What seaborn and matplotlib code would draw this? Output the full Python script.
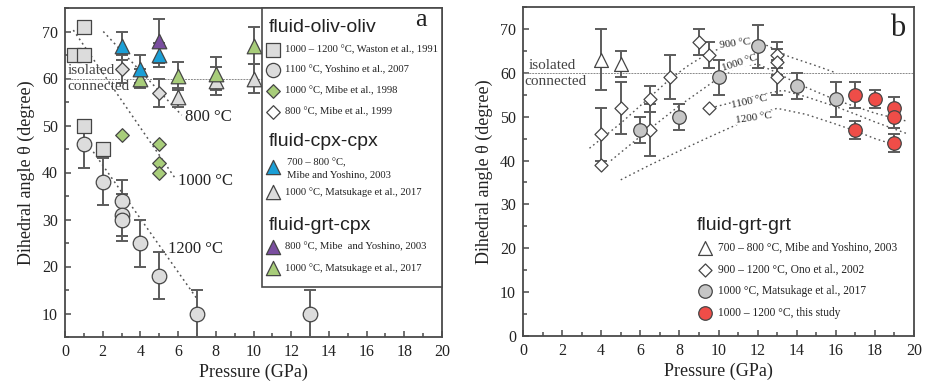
import numpy as np
import pandas as pd
import matplotlib
matplotlib.use("Agg")
import matplotlib.pyplot as plt
from matplotlib.patches import Rectangle
from matplotlib.ticker import MultipleLocator
import seaborn as sns

sns.set_theme(style="ticks")
SERIF = ['Liberation Serif', 'DejaVu Serif']
SANS = ['Liberation Sans', 'DejaVu Sans']
plt.rcParams['font.family'] = SERIF

# ---------------- panel a data ----------------
watson_p = [0.5, 1.0, 1.0, 1.0, 2.0]
watson_a = [65, 65, 71, 50, 45]

yoshino_p = [1, 2, 3, 3, 3, 4, 5, 7, 13]
yoshino_a = [46, 38, 34, 31, 30, 25, 18, 10, 10]
yoshino_e = [5, 5, 4.5, 4.5, 4.5, 5, 5, 5, 5]

mibe98_p = [3, 5, 5, 5]
mibe98_a = [48, 46, 42, 40]

mibe99_p = [3, 5]
mibe99_a = [62, 57]
mibe99_e = [3, 3]

my03cpx_p = [3, 4, 5]
my03cpx_a = [67, 62, 65]
my03cpx_e = [3, 3, 2.5]

mat17cpx_p = [6, 8, 10]
mat17cpx_a = [56, 59.5, 60]
mat17cpx_e = [2, 3, 3]

my03grtcpx_p = [5]
my03grtcpx_a = [68]
my03grtcpx_e = [4.7]

mat17grtcpx_p = [4, 6, 8, 10]
mat17grtcpx_a = [60, 60.5, 61, 67]
mat17grtcpx_e = [2, 3, 3.5, 4]

line800_p = [2.03, 6.19]
line800_a = [70.0, 52.2]
line1000_p = [0.44, 5.84]
line1000_a = [70.3, 38.8]
line1200_p = [1.5, 6.99]
line1200_a = [44.4, 13.2]

# ---------------- panel b data ----------------
my03_p = [4, 5]
my03_a = [63, 62]
my03_e = [7, 3]

ono02_p = [4, 4, 5, 6.5, 6.5, 7.5, 9, 9.5, 9.5, 13, 13, 13]
ono02_a = [46, 39, 52, 54, 47, 59, 67, 64, 52, 64, 62.5, 59]
ono02_e = [6, 0, 6, 3, 6, 5, 3, 3, 0, 3, 3, 4]

mat17_p = [6, 8, 10, 12, 14, 16]
mat17_a = [47, 50, 59, 66, 57, 54]
mat17_e = [3, 3, 4, 5, 3, 4]

this_p = [17, 17, 18, 19, 19, 19]
this_a = [55, 47, 54, 52, 50, 44]
this_e = [3, 2, 2, 2.5, 2.5, 2]

iso900_p = [3.4, 5.0, 6.5, 7.5, 8.5, 9.5, 10.5, 11.5, 12.5, 13.6, 15.0, 16.0]
iso900_a = [42.8, 48.5, 54.5, 58.5, 61.8, 64.5, 66.3, 67.0, 66.2, 63.7, 61.6, 60.0]
iso1000_p = [4.5, 6.0, 8.0, 10.0, 11.0, 12.0, 13.0, 14.0, 16.0, 17.0, 18.0, 19.7]
iso1000_a = [40.0, 45.5, 52.5, 58.8, 61.5, 62.0, 60.0, 57.6, 53.8, 52.3, 50.8, 48.9]
iso1100_p = [9.6, 10.5, 11.5, 12.5, 13.3, 14.5, 16.0, 17.1, 18.0, 19.6]
iso1100_a = [52.0, 53.0, 54.3, 55.3, 56.0, 54.5, 52.3, 50.4, 48.8, 46.2]
iso1200_p = [5.0, 6.5, 8.0, 9.5, 10.8, 12.0, 13.0, 14.5, 16.0, 17.1, 18.0, 19.3]
iso1200_a = [35.6, 39.0, 42.2, 45.3, 47.9, 50.5, 51.9, 50.5, 48.3, 46.6, 45.0, 43.2]

# ---------------- styling ----------------
W, H = 930, 385
EDGE = '#454545'
ECOL = '#5c5c5c'
AX = '#4a4a4a'
C_LGRAY = '#dcdcdc'
C_GREEN = '#a8cd7a'
C_BLUE = '#1b9fd6'
C_PURPLE = '#7a4e9f'
C_BGRAY = '#c6c6c6'
C_RED = '#ef4d48'

fig = plt.figure(figsize=(W / 100, H / 100), dpi=100)
axa = fig.add_axes([65 / W, 1 - 337 / H, (442 - 65) / W, (337 - 8) / H])
axb = fig.add_axes([523 / W, 1 - 336 / H, (914 - 523) / W, (336 - 7) / H])


def draw(ax, p, a, err, marker, face, size, z=4):
    df = pd.DataFrame({'p': p, 'a': a})
    if err is not None:
        e = np.asarray(err, float)
        m = e > 0
        ax.errorbar(np.asarray(p, float)[m], np.asarray(a, float)[m], yerr=e[m],
                    fmt='none', ecolor=ECOL, elinewidth=1.4, capsize=4,
                    capthick=1.4, zorder=z - 0.5)
    sns.scatterplot(data=df, x='p', y='a', ax=ax, marker=marker, s=size,
                    color=face, edgecolor=EDGE, linewidth=0.9, zorder=z,
                    legend=False, clip_on=False)


def style(ax, ymin, ymax, ymaj):
    ax.set_xlim(0, 20)
    ax.set_ylim(ymin, ymax)
    ax.xaxis.set_major_locator(MultipleLocator(2))
    ax.xaxis.set_minor_locator(MultipleLocator(1))
    ax.set_yticks(ymaj)
    ax.yaxis.set_minor_locator(MultipleLocator(5))
    for s in ax.spines.values():
        s.set_color(AX)
        s.set_linewidth(1.3)
    ax.tick_params(which='both', direction='in', color=AX, width=1.1,
                   top=False, right=False)
    ax.tick_params(which='major', length=4, labelsize=11.5, pad=5,
                   labelcolor='#222222')
    ax.tick_params(which='minor', length=3)
    ax.set_xlabel('Pressure (GPa)', fontsize=13, color='#222222', labelpad=3)
    ax.set_ylabel('Dihedral angle θ (degree)', fontsize=13, color='#222222',
                  labelpad=5)
    ax.set_facecolor('white')


style(axa, 5, 75, list(range(10, 80, 10)))
style(axb, 0, 75, list(range(0, 80, 10)))

DOT = (0, (1.2, 2.2))

# ---------------- panel a ----------------
axa.axhline(60, color='#8a8a8a', lw=0.7, ls=(0, (2, 1)), zorder=1)
axa.text(0.12, 61.6, 'isolated', fontsize=11, color='#444444', va='center')
axa.text(0.12, 58.2, 'connected', fontsize=11, color='#444444', va='center')
for lp, la in [(line800_p, line800_a), (line1000_p, line1000_a), (line1200_p, line1200_a)]:
    axa.plot(lp, la, color='#555555', lw=1.1, ls=DOT, zorder=2)
axa.text(6.37, 51.9, '800 °C', fontsize=12, va='center', color='#222222')
axa.text(6.0, 38.2, '1000 °C', fontsize=12, va='center', color='#222222')
axa.text(5.48, 23.8, '1200 °C', fontsize=12, va='center', color='#222222')

draw(axa, yoshino_p, yoshino_a, yoshino_e, 'o', C_LGRAY, 110)
draw(axa, watson_p, watson_a, None, 's', C_LGRAY, 105)
draw(axa, mibe98_p, mibe98_a, None, 'D', C_GREEN, 48)
draw(axa, mibe99_p, mibe99_a, mibe99_e, 'D', C_LGRAY, 48)
draw(axa, mat17cpx_p, mat17cpx_a, mat17cpx_e, '^', C_LGRAY, 110)
draw(axa, mat17grtcpx_p, mat17grtcpx_a, mat17grtcpx_e, '^', C_GREEN, 110)
draw(axa, my03cpx_p, my03cpx_a, my03cpx_e, '^', C_BLUE, 110)
draw(axa, my03grtcpx_p, my03grtcpx_a, my03grtcpx_e, '^', C_PURPLE, 110)

# legend box panel a
tf = fig.transFigure
axa.add_patch(Rectangle((262 / W, 1 - 287 / H), (442 - 262) / W, (287 - 8) / H,
                        transform=tf, facecolor='white', edgecolor=AX, lw=1.2,
                        zorder=10, clip_on=False))


def swatch(ax, x, y, marker, face, size):
    ax.scatter([x / W], [1 - y / H], transform=tf, marker=marker, s=size,
               color=face, edgecolor=EDGE, linewidth=0.9, zorder=12, clip_on=False)


def ftext(x, y, s, fs, fam, **kw):
    fig.text(x / W, 1 - y / H, s, fontsize=fs, family=fam, va='center',
             color='#222222', zorder=13, **kw)


ftext(269, 27, 'fluid-oliv-oliv', 14, SANS)
ftext(269, 142, 'fluid-cpx-cpx', 14, SANS)
ftext(269, 226, 'fluid-grt-cpx', 14, SANS)
ftext(421, 20, 'a', 19, SERIF, ha='center')

LA = 7.7
swatch(axa, 273, 49.5, 's', C_LGRAY, 105)
ftext(285, 49.5, '1000 – 1200 °C, Waston et al., 1991', LA, SERIF)
swatch(axa, 273, 70, 'o', C_LGRAY, 105)
ftext(285, 70, '1100 °C, Yoshino et al., 2007', LA, SERIF)
swatch(axa, 273, 90.7, 'D', C_GREEN, 48)
ftext(285, 90.7, '1000 °C, Mibe et al., 1998', LA, SERIF)
swatch(axa, 273, 111.7, 'D', 'white', 48)
ftext(285, 111.7, '800 °C, Mibe et al., 1999', LA, SERIF)
swatch(axa, 273, 167, '^', C_BLUE, 105)
ftext(287, 163, '700 – 800 °C,', LA, SERIF)
ftext(287, 175, 'Mibe and Yoshino, 2003', LA, SERIF)
swatch(axa, 273, 191.7, '^', C_LGRAY, 105)
ftext(285, 191.7, '1000 °C, Matsukage et al., 2017', LA, SERIF)
swatch(axa, 273, 246.7, '^', C_PURPLE, 105)
ftext(285, 246.7, '800 °C, Mibe  and Yoshino, 2003', LA, SERIF)
swatch(axa, 273, 268.3, '^', C_GREEN, 105)
ftext(285, 268.3, '1000 °C, Matsukage et al., 2017', LA, SERIF)

# ---------------- panel b ----------------
axb.axhline(60, color='#8a8a8a', lw=0.7, ls=(0, (2, 1)), zorder=1)
axb.text(0.3, 61.6, 'isolated', fontsize=11, color='#444444', va='center')
axb.text(0.05, 58.1, 'connected', fontsize=11, color='#444444', va='center')
for lp, la in [(iso900_p, iso900_a), (iso1000_p, iso1000_a),
               (iso1100_p, iso1100_a), (iso1200_p, iso1200_a)]:
    axb.plot(lp, la, color='#555555', lw=1.0, ls=DOT, zorder=2)
bb = dict(facecolor='white', edgecolor='none', pad=0.3)
axb.text(10.84, 66.6, '900 °C', fontsize=8, rotation=7, ha='center', va='center', bbox=bb, zorder=3)
axb.text(11.1, 62.2, '1000 °C', fontsize=8, rotation=18, ha='center', va='center', bbox=bb, zorder=3)
axb.text(11.6, 53.3, '1100 °C', fontsize=8, rotation=12, ha='center', va='center', bbox=bb, zorder=3)
axb.text(11.8, 49.8, '1200 °C', fontsize=8, rotation=8, ha='center', va='center', bbox=bb, zorder=3)

draw(axb, my03_p, my03_a, my03_e, '^', 'white', 100)
draw(axb, ono02_p, ono02_a, ono02_e, 'D', 'white', 44)
draw(axb, mat17_p, mat17_a, mat17_e, 'o', C_BGRAY, 95)
draw(axb, this_p, this_a, this_e, 'o', C_RED, 95)

axb.text(0.959, 0.936, 'b', transform=axb.transAxes, fontsize=22, ha='center',
         va='center', color='#222222')

ftext(697, 225, 'fluid-grt-grt', 14, SANS)
LB = 8.3
swatch(axb, 705, 248, '^', 'white', 100)
ftext(718, 248, '700 – 800 °C, Mibe and Yoshino, 2003', LB, SERIF)
swatch(axb, 705, 270, 'D', 'white', 44)
ftext(718, 270, '900 – 1200 °C, Ono et al., 2002', LB, SERIF)
swatch(axb, 705, 291, 'o', C_BGRAY, 95)
ftext(718, 291, '1000 °C, Matsukage et al., 2017', LB, SERIF)
swatch(axb, 705, 313, 'o', C_RED, 95)
ftext(718, 313, '1000 – 1200 °C, this study', LB, SERIF)

fig.savefig('out.png', dpi=100, facecolor='white')
